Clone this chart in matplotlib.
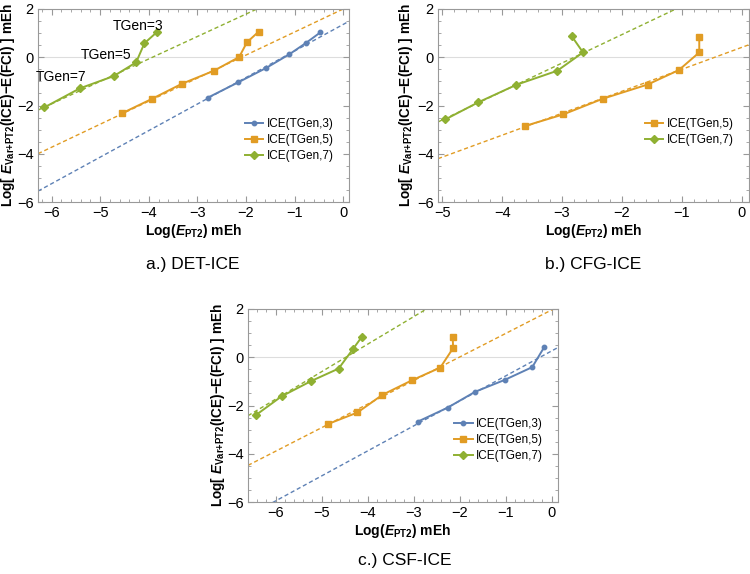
import numpy as np
import matplotlib
matplotlib.use("Agg")
import matplotlib.pyplot as plt
from matplotlib.ticker import MultipleLocator

plt.rcParams['font.family'] = ['Liberation Sans', 'DejaVu Sans']
plt.rcParams['mathtext.fontset'] = 'custom'
plt.rcParams['mathtext.rm'] = 'Liberation Sans:bold'
plt.rcParams['mathtext.bf'] = 'Liberation Sans:bold'
plt.rcParams['mathtext.it'] = 'Liberation Sans:italic:bold'

# a.) DET-ICE
det_x3 = [-2.79, -2.16, -1.59, -1.11, -0.76, -0.47]
det_y3 = [-1.68, -1.04, -0.45, 0.12, 0.60, 1.03]
det_x5 = [-4.55, -3.93, -3.32, -2.66, -2.14, -1.98, -1.74]
det_y5 = [-2.32, -1.72, -1.10, -0.56, 0.01, 0.62, 1.06]
det_x7 = [-6.15, -5.42, -4.72, -4.26, -4.09, -3.84]
det_y7 = [-2.08, -1.29, -0.78, -0.21, 0.58, 1.03]
det_slope = [1.10, 0.955, 0.93]
det_icept = [1.36, 2.00, 3.65]

# b.) CFG-ICE
cfg_x5 = [-3.62, -2.98, -2.32, -1.57, -1.05, -0.71, -0.71]
cfg_y5 = [-2.85, -2.37, -1.72, -1.13, -0.53, 0.20, 0.85]
cfg_x7 = [-4.95, -4.40, -3.76, -3.08, -2.65, -2.84]
cfg_y7 = [-2.58, -1.87, -1.14, -0.56, 0.20, 0.88]
cfg_slope = [0.91, 1.18]
cfg_icept = [0.41, 3.30]

# c.) CSF-ICE
csf_x3 = [-2.91, -2.26, -1.66, -1.02, -0.42, -0.16]
csf_y3 = [-2.67, -2.09, -1.43, -0.94, -0.41, 0.42]
csf_x5 = [-4.85, -4.22, -3.68, -3.03, -2.42, -2.14, -2.15]
csf_y5 = [-2.76, -2.29, -1.56, -0.95, -0.43, 0.38, 0.86]
csf_x7 = [-6.43, -5.87, -5.22, -4.63, -4.31, -4.12]
csf_y7 = [-2.40, -1.62, -0.98, -0.47, 0.36, 0.86]
csf_slope = [1.036, 0.976, 1.14]
csf_icept = [0.26, 1.96, 5.10]

tgen_labels = ["TGen=3", "TGen=5", "TGen=7"]
tgen_x = [-4.22, -4.88, -5.81]
tgen_y = [1.29, 0.09, -0.82]

blue = '#5E81B5'
orange = '#E19C24'
green = '#8FB032'
style = {
    3: dict(color=blue, marker='o', ms=3.2, label="ICE(TGen,3)"),
    5: dict(color=orange, marker='s', ms=4.5, label="ICE(TGen,5)"),
    7: dict(color=green, marker='D', ms=4.0, label="ICE(TGen,7)"),
}


def rect(l, t, r, b):
    return [l/750, 1 - b/574, (r-l)/750, (b-t)/574]


def panel(fig, box, xlim, series, fits, ylab_x):
    ax = fig.add_axes(rect(*box))
    ax.axhline(0, color='#dddddd', lw=0.8, zorder=0)
    xx = np.array(xlim)
    for (k, xs, ys), (m, c) in zip(series, fits):
        st = style[k]
        ax.plot(xx, m*xx + c, color=st['color'], lw=1.0, ls=(0, (3, 2)))
        ax.plot(xs, ys, lw=1.4, **st)
    ax.set_xlim(xlim)
    ax.set_ylim(-6, 2)
    ax.xaxis.set_major_locator(MultipleLocator(1))
    ax.xaxis.set_minor_locator(MultipleLocator(0.2))
    ax.yaxis.set_major_locator(MultipleLocator(2))
    ax.yaxis.set_minor_locator(MultipleLocator(0.5))
    ax.tick_params(which='both', direction='in', top=True, right=True,
                   color='#999999', labelsize=10.5, pad=3)
    ax.tick_params(which='major', length=4)
    ax.tick_params(which='minor', length=2)
    for s in ax.spines.values():
        s.set_color('#999999')
    ax.set_xlabel(r"Log($E_{\mathrm{PT2}}$) mEh", fontsize=10, fontweight='bold', va='center')
    ax.xaxis.set_label_coords(0.5, -0.15)
    ax.set_ylabel(r"Log[ $E_{\mathrm{Var{+}PT2}}$(ICE)$-$E(FCI) ] mEh",
                  fontsize=9.8, fontweight='bold', va='center')
    ax.yaxis.set_label_coords(ylab_x, 0.5)
    ax.legend(loc='upper left', bbox_to_anchor=(0.63, 0.49), frameon=False,
              fontsize=8.5, handlelength=1.6, labelspacing=0.35, handletextpad=0.3)
    return ax


def main():
    fig = plt.figure(figsize=(7.5, 5.74), dpi=100)

    ax = panel(fig, (38, 9, 349, 202), (-6.28, 0.12),
               [(3, det_x3, det_y3), (5, det_x5, det_y5), (7, det_x7, det_y7)],
               list(zip(det_slope, det_icept)), -0.097)
    for t, x, y in zip(tgen_labels, tgen_x, tgen_y):
        ax.text(x, y, t, fontsize=10, ha='center', va='center')

    panel(fig, (438, 9, 749, 202), (-5.07, 0.12),
          [(5, cfg_x5, cfg_y5), (7, cfg_x7, cfg_y7)],
          list(zip(cfg_slope, cfg_icept)), -0.103)

    panel(fig, (248, 309, 558, 502), (-6.6, 0.14),
          [(3, csf_x3, csf_y3), (5, csf_x5, csf_y5), (7, csf_x7, csf_y7)],
          list(zip(csf_slope, csf_icept)), -0.097)

    fig.text(193/750, 1 - 265/574, "a.) DET-ICE", fontsize=12.5, ha='center', va='center')
    fig.text(593/750, 1 - 265/574, "b.) CFG-ICE", fontsize=12.5, ha='center', va='center')
    fig.text(405/750, 1 - 561/574, "c.) CSF-ICE", fontsize=12.5, ha='center', va='center')

    fig.savefig("out.png", dpi=100)


if __name__ == "__main__":
    main()
